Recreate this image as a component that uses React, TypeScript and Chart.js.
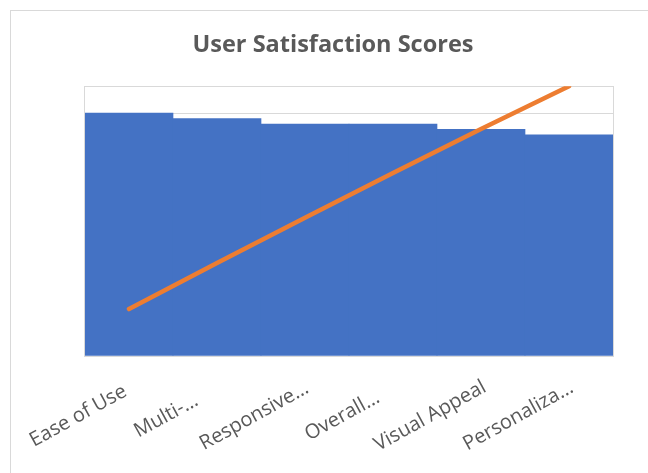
import React, { useEffect, useRef } from "react";
import { Chart, registerables } from "chart.js";

Chart.register(...registerables);

const categories = ["Ease of Use", "Multi-…", "Responsive…", "Overall…", "Visual Appeal", "Personaliza…"];
const scores = [4.5, 4.4, 4.3, 4.3, 4.2, 4.1];
const cumulativePct = [17.4, 34.5, 51.2, 67.8, 84.1, 100];
const yMax = 5;
const yStep = 0.5;
const pctMax = 100;

const TITLE = "User Satisfaction Scores";
const FONT = "'Open Sans', 'Noto Sans', sans-serif";
const LABEL_FONT = `20px ${FONT}`;
const LABEL_ANGLE = (-29 * Math.PI) / 180;

const framePlugin = {
  id: "frame",
  beforeDraw(chart: any) {
    const { ctx, width, height } = chart;
    ctx.save();
    ctx.fillStyle = "#ffffff";
    ctx.fillRect(0, 0, width, height);
    ctx.strokeStyle = "#D9D9D9";
    ctx.lineWidth = 1;
    ctx.strokeRect(10.5, 10.5, width + 20, height + 20);
    ctx.restore();
  },
  beforeDatasetsDraw(chart: any) {
    const { ctx, chartArea } = chart;
    ctx.save();
    ctx.strokeStyle = "#D9D9D9";
    ctx.lineWidth = 1;
    ctx.strokeRect(
      Math.round(chartArea.left) - 0.5,
      Math.round(chartArea.top) + 0.5,
      Math.round(chartArea.right - chartArea.left) + 1,
      Math.round(chartArea.bottom - chartArea.top)
    );
    ctx.restore();
  },
  afterDraw(chart: any) {
    // Excel-style rotated category labels, centred on a point below each category
    const { ctx, chartArea } = chart;
    const xScale = chart.scales.x;
    ctx.save();
    ctx.font = LABEL_FONT;
    ctx.fillStyle = "#595959";
    ctx.textAlign = "center";
    ctx.textBaseline = "alphabetic";
    const labels = chart.data.labels as string[];
    labels.forEach((lab, i) => {
      const x = xScale.getPixelForTick(i) - 48;
      const y = chartArea.bottom + 65;
      ctx.save();
      ctx.translate(x, y);
      ctx.rotate(LABEL_ANGLE);
      ctx.fillText(lab, 0, 0);
      ctx.restore();
    });
    ctx.restore();
  },
};

export default function App() {
  const ref = useRef<HTMLCanvasElement | null>(null);

  useEffect(() => {
    if (!ref.current) return;
    const chart = new Chart(ref.current, {
      type: "bar",
      data: {
        labels: categories,
        datasets: [
          {
            type: "line",
            label: "Cumulative %",
            data: cumulativePct,
            yAxisID: "y1",
            borderColor: "#ED7D31",
            backgroundColor: "#ED7D31",
            borderWidth: 4.5,
            borderCapStyle: "round",
            borderJoinStyle: "round",
            pointRadius: 0,
            tension: 0,
            order: 0,
          } as any,
          {
            type: "bar",
            label: "Score",
            data: scores,
            yAxisID: "y",
            backgroundColor: "#4472C4",
            borderWidth: 0,
            categoryPercentage: 1,
            barPercentage: 1,
            order: 1,
          },
        ],
      },
      options: {
        responsive: false,
        animation: false,
        layout: { padding: { left: 53, right: 35, top: 0, bottom: 0 } },
        plugins: {
          legend: { display: false },
          tooltip: { enabled: false },
          title: {
            display: true,
            text: TITLE,
            color: "#595959",
            font: { family: FONT, size: 23.5, weight: "bold" },
            padding: { top: 31, bottom: 27 },
          },
        },
        scales: {
          x: {
            grid: { display: false, drawTicks: false },
            border: { display: false },
            ticks: { display: false, autoSkip: false },
            afterFit(scale: any) {
              scale.height = 117;
            },
          },
          y: {
            min: 0,
            max: yMax,
            ticks: { display: false, stepSize: yStep },
            grid: { color: "#D9D9D9", drawTicks: false },
            border: { display: false },
            afterFit(scale: any) {
              scale.width = 32;
            },
          },
          y1: {
            display: false,
            position: "right",
            min: 0,
            max: pctMax,
          },
        },
      },
      plugins: [framePlugin],
    });
    return () => chart.destroy();
  }, []);

  return (
    <div style={{ position: "fixed", left: 0, top: 0, width: 648, height: 473 }}>
      <canvas ref={ref} width={648} height={473} style={{ display: "block" }} />
    </div>
  );
}
